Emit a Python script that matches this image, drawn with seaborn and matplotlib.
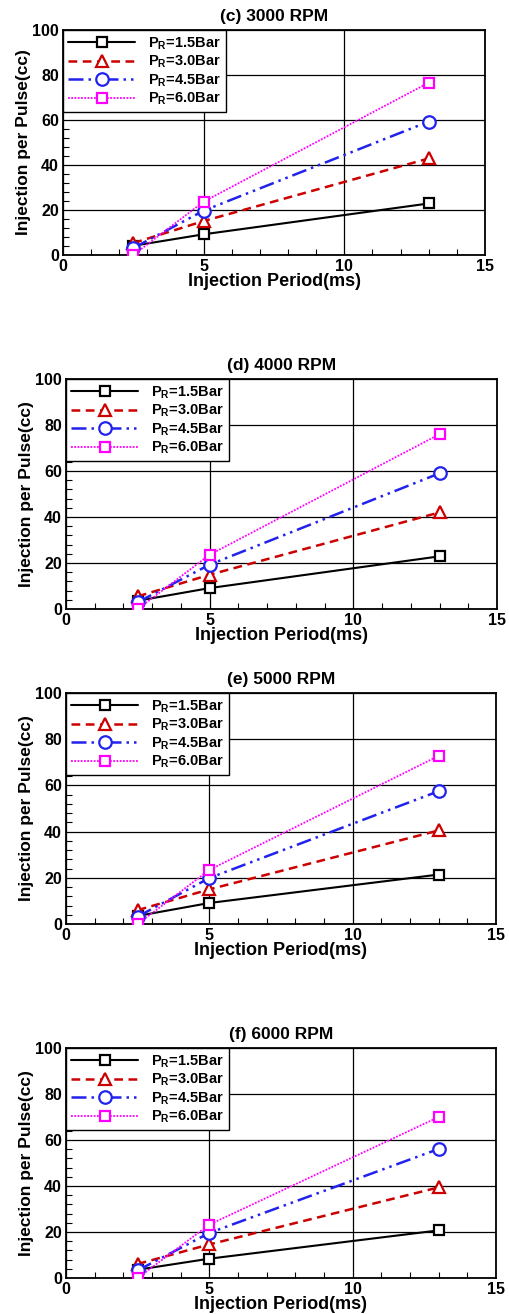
import numpy as np
import pandas as pd
import matplotlib
matplotlib.use("Agg")
import matplotlib.pyplot as plt
from matplotlib.ticker import MultipleLocator
import seaborn as sns

# ---------------- data ----------------
injection_period = [2.5, 5.0, 13.0]
pressures = ["1.5", "3.0", "4.5", "6.0"]
panel_titles = ["(c) 3000 RPM", "(d) 4000 RPM", "(e) 5000 RPM", "(f) 6000 RPM"]

rpm3000 = {"1.5": [4.1, 9.2, 22.9], "3.0": [5.3, 15.1, 42.9],
           "4.5": [3.1, 19.7, 59.3], "6.0": [0.0, 23.7, 76.6]}
rpm4000 = {"1.5": [3.6, 9.1, 22.9], "3.0": [5.5, 14.9, 42.0],
           "4.5": [3.0, 19.3, 59.0], "6.0": [0.0, 23.6, 76.0]}
rpm5000 = {"1.5": [3.5, 9.1, 21.4], "3.0": [6.0, 15.0, 40.5],
           "4.5": [3.2, 19.9, 57.5], "6.0": [0.0, 23.4, 72.8]}
rpm6000 = {"1.5": [3.6, 8.4, 20.7], "3.0": [6.1, 14.6, 39.4],
           "4.5": [3.3, 19.6, 56.1], "6.0": [0.0, 23.2, 70.0]}
panels = [rpm3000, rpm4000, rpm5000, rpm6000]

x_ticks = [0, 5, 10, 15]
y_ticks = [0, 20, 40, 60, 80, 100]

# ---------------- style ----------------
sns.set_theme(style="white")
plt.rcParams["font.family"] = ["Liberation Sans", "DejaVu Sans"]
plt.rcParams["font.weight"] = "bold"
plt.rcParams["text.color"] = "black"
plt.rcParams["axes.labelcolor"] = "black"
plt.rcParams["xtick.color"] = "black"
plt.rcParams["ytick.color"] = "black"
plt.rcParams["mathtext.fontset"] = "custom"
plt.rcParams["mathtext.rm"] = "Liberation Sans:bold"
plt.rcParams["mathtext.it"] = "Liberation Sans:bold"
plt.rcParams["mathtext.bf"] = "Liberation Sans:bold"

series_style = {
    "1.5": dict(color="black", marker="s", ms=6.5, lw=1.5, ls="-"),
    "3.0": dict(color="#cc0000", marker="^", ms=8, lw=1.8, ls=(0, (3.5, 2.2))),
    "4.5": dict(color="#2222ee", marker="o", ms=9, lw=1.8, ls=(0, (6, 2, 1, 2, 1, 2))),
    "6.0": dict(color="#ff00ff", marker="s", ms=6.5, lw=1.3, ls=(0, (1, 0.8))),
}

W, H = 509, 1314
fig = plt.figure(figsize=(W / 100, H / 100), dpi=100)
fig.patch.set_facecolor("white")

# axes boxes in pixels: left, right, top, bottom
boxes = [(63, 485, 30, 255), (66, 497, 379, 609),
         (66, 496, 693, 924), (66, 496, 1048, 1278)]

for data, title, (l, r, t, b) in zip(panels, panel_titles, boxes):
    ax = fig.add_axes([l / W, 1 - b / H, (r - l) / W, (b - t) / H])
    for p in pressures:
        st = series_style[p]
        df = pd.DataFrame({"x": injection_period, "y": data[p]})
        sns.lineplot(data=df, x="x", y="y", ax=ax, color=st["color"],
                     marker=st["marker"], markersize=st["ms"],
                     markerfacecolor="white", markeredgecolor=st["color"],
                     markeredgewidth=1.6, linewidth=st["lw"], linestyle=st["ls"],
                     label=r"P$_\mathregular{R}$=" + p + "Bar", zorder=3)
    ax.set_xlim(0, 15)
    ax.set_ylim(0, 100)
    ax.set_xticks(x_ticks)
    ax.set_yticks(y_ticks)
    ax.xaxis.set_minor_locator(MultipleLocator(1))
    ax.yaxis.set_minor_locator(MultipleLocator(4))
    ax.tick_params(which="both", direction="in", left=True, bottom=True,
                   top=False, right=False, colors="black", labelsize=11.5)
    ax.tick_params(which="major", length=0, pad=3)
    ax.tick_params(which="minor", length=4, width=0.8)
    for lab in ax.get_xticklabels() + ax.get_yticklabels():
        lab.set_fontweight("bold")
    ax.grid(True, which="major", color="black", linewidth=0.9)
    ax.set_axisbelow(True)
    for s in ax.spines.values():
        s.set_color("black")
        s.set_linewidth(1.3)
    ax.set_xlabel("Injection Period(ms)", fontsize=13, fontweight="bold", labelpad=-1)
    ax.set_ylabel("Injection per Pulse(cc)", fontsize=12.5, fontweight="bold", labelpad=1)
    ax.set_title(title, fontsize=12.5, fontweight="bold", pad=6.5)
    leg = ax.legend(loc="upper left", borderaxespad=0, frameon=True, fancybox=False,
                    edgecolor="black", framealpha=1,
                    handlelength=4.6, handletextpad=0.9, labelspacing=0.15,
                    borderpad=0.35, prop={"weight": "bold", "size": 10.5})
    leg.get_frame().set_linewidth(1.0)
    leg.set_zorder(5)

fig.savefig("out.png", dpi=100, facecolor="white")
